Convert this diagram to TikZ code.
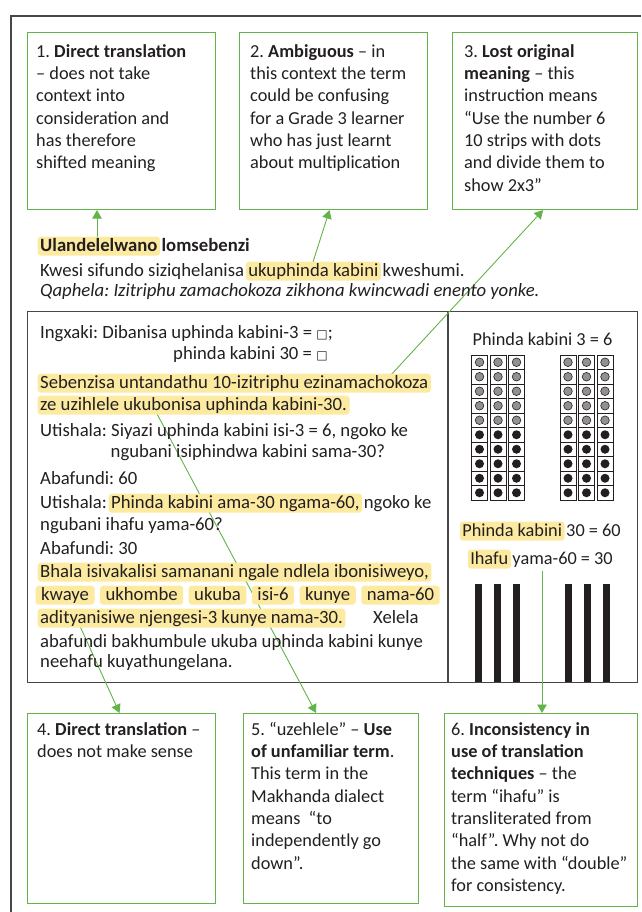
\documentclass[tikz,border=0pt]{standalone}
\usepackage{fontspec}
\setmainfont{Carlito}
\newfontfamily\symfont{DejaVu Sans}
\usetikzlibrary{arrows.meta,calc}

\definecolor{notegreen}{RGB}{98,180,72}
\definecolor{hlyellow}{RGB}{252,234,160}
\definecolor{ink}{RGB}{35,31,32}
\definecolor{framegray}{RGB}{70,70,70}
\definecolor{dotgray}{RGB}{145,145,145}

\newcommand{\bodyfont}{\fontsize{18.3}{22.3}\selectfont}
\newcommand{\lessonfont}{\fontsize{18.7}{22.3}\selectfont}
\newcommand{\topstrut}{\rule{0pt}{14pt}}
\newcommand{\blank}{{\symfont\fontsize{12}{12}\selectfont □}}
\newcommand{\hl}[2][2.5pt]{\hspace{-#1}\tikz[baseline=(hx.base)]\node[hlbox,inner xsep=#1](hx){#2};\hspace{-#1}}

\tikzset{
  notebox/.style={draw=notegreen,line width=1.1pt,anchor=north west,inner sep=0pt},
  notetext/.style={anchor=north west,align=left,inner sep=0pt,text=ink,font=\bodyfont},
  txt/.style={anchor=base west,inner sep=0pt,text=ink,font=\lessonfont},
  hlbox/.style={anchor=base,fill=hlyellow,draw=none,rounded corners=3pt,inner ysep=0pt,text height=14.3pt,text depth=4.6pt},
  pointer/.style={draw=notegreen,line width=0.9pt,-{Triangle[length=8.5pt,width=9.5pt]}},
  frameline/.style={draw=framegray,line width=1.1pt},
  cell/.style={draw=ink,line width=0.6pt},
}

\begin{document}
\frenchspacing
\begin{tikzpicture}[x=1pt,y=-1pt]
\useasboundingbox (0,0) rectangle (641,912);
% outer frame, cut at right and bottom
\draw[frameline] (11,912) |- (641,16);

% comment boxes
\node[notebox,minimum width=188pt,minimum height=177pt] (box1) at (27,32) {};
\node[notebox,minimum width=188pt,minimum height=177pt] (box2) at (239,32) {};
\node[notebox,minimum width=185pt,minimum height=177pt] (box3) at (452,32) {};
\node[notebox,minimum width=188pt,minimum height=190pt] (box4) at (27,713) {};
\node[notebox,minimum width=175pt,minimum height=190pt] (box5) at (243,713) {};
\node[notebox,minimum width=193.5pt,minimum height=193pt] (box6) at (443.5,713) {};

% lesson box
\node[notebox,draw=framegray,minimum width=610pt,minimum height=371pt] (main) at (27,311) {};
\coordinate (split) at (448,311);
\draw[frameline] (split) -- (split |- main.south);

% ten strips
\foreach \gx in {471.5,560}
  \foreach \c in {0,1,2}
    \foreach \r in {0,...,9}
      \draw[cell] ({\gx+\c*18.5},{355+\r*14.5}) rectangle ++(16,14.5);
\foreach \gx in {471.5,560}
  \foreach \c in {0,1,2} {
    \foreach \r in {0,...,4}
      \filldraw[cell,fill=dotgray] ({\gx+\c*18.5+8},{362.25+\r*14.5}) circle (4.3pt);
    \foreach \r in {5,...,9}
      \fill[ink] ({\gx+\c*18.5+8},{362.25+\r*14.5}) circle (4.5pt);
  }
% sticks
\foreach \bx in {475,494,513,565,584,603}
  \fill[ink] (\bx,584) rectangle ++(7,98);

% pointers
\coordinate (a1) at (97,243);
\coordinate (a2) at (313,262);
\coordinate (a3) at (390,376);
\coordinate (a4) at (74,613);
\coordinate (a5) at (156,412);
\coordinate (a6) at (542,571);
\draw[pointer] (a1) -- (a1 |- box1.south);
\draw[pointer] (a2) -- ($(box2.south)+(-4,0)$);
\draw[pointer] (a3) -- ($(box3.south)+(-2,0)$);
\draw[pointer] (a4) -- ($(box4.north)+(-2,0)$);
\draw[pointer] (a5) -- ($(box5.north)+(-15,0)$);
\draw[pointer] (a6) -- (a6 |- box6.north);

% comments
\node[notetext] (n1) at (36,43) {\topstrut 1. \textbf{Direct translation}\\– does not take\\context into\\consideration and\\has therefore\\shifted meaning};
\node[notetext] (n2) at (250,43) {\topstrut 2. \textbf{Ambiguous} – in\\this context the term\\could be confusing\\for a Grade 3 learner\\who has just learnt\\about multiplication};
\node[notetext] (n3) at (464,43) {\topstrut 3. \textbf{Lost original}\\\textbf{meaning} – this\\instruction means\\“Use the number 6\\10 strips with dots\\and divide them to\\show 2x3”};
\node[notetext] (n4) at (37,721) {\topstrut 4. \textbf{Direct translation} –\\does not make sense};
\node[notetext] (n5) at (251,721) {\topstrut 5. “uzehlele” – \textbf{Use}\\\textbf{of unfamiliar term}.\\This term in the\\Makhanda dialect\\means\ \ “to\\independently go\\down”.};
\node[notetext] (n6) at (451,721) {\topstrut 6. \textbf{Inconsistency in}\\\textbf{use of translation}\\\textbf{techniques} – the\\term “ihafu” is\\transliterated from\\“half”. Why not do\\the same with “double”\\for consistency.};

% heading of the lesson
\node[txt] (t1) at (40,251) {\textbf{\hl{Ulandelelwano} lomsebenzi}};
\node[txt] (t2) at (40,276) {Kwesi sifundo siziqhelanisa \hl{ukuphinda kabini} kweshumi.};
\node[txt] (t3) at (40,296) {\textit{Qaphela: Izitriphu zamachokoza zikhona kwincwadi enento yonke.}};

% lesson text
\node[txt] (m1) at (40,338) {Ingxaki: Dibanisa uphinda kabini-3 = \blank;};
\node[txt] (m2) at (173,359) {phinda kabini 30 = \blank};
\node[txt] (m3) at (40,388) {\hl{Sebenzisa untandathu 10-izitriphu ezinamachokoza}};
\node[txt] (m4) at (40,410) {\hl{ze uzihlele ukubonisa uphinda kabini-30.}};
\node[txt] (m5) at (40,436) {Utishala: Siyazi uphinda kabini isi-3 = 6, ngoko ke};
\node[txt] (m6) at (110.5,457) {ngubani isiphindwa kabini sama-30?};
\node[txt] (m7) at (40,484) {Abafundi: 60};
\node[txt] (m8) at (40,508) {Utishala: \hl{Phinda kabini ama-30 ngama-60,} ngoko ke};
\node[txt] (m9) at (40,530) {ngubani ihafu yama-60?};
\node[txt] (m10) at (40,554) {Abafundi: 30};
\node[txt] (m11) at (40,577) {\hl{Bhala isivakalisi samanani ngale ndlela ibonisiweyo,}};
\node[txt] (m12) at (41,600) {\makebox[393pt][s]{\hl[5.5pt]{kwaye}\hfill\hl[5.5pt]{ukhombe}\hfill\hl[5.5pt]{ukuba}\hfill\hl[5.5pt]{isi-6}\hfill\hl[5.5pt]{kunye}\hfill\hl[5.5pt]{nama-60}}};
\node[txt] (m13) at (40,623) {\makebox[333pt][l]{\hl{adityanisiwe njengesi-3 kunye nama-30.}}Xelela};
\node[txt] (m14) at (40,647) {abafundi bakhumbule ukuba uphinda kabini kunye};
\node[txt] (m15) at (40,667) {neehafu kuyathungelana.};

% strip picture labels
\node[txt,font=\bodyfont,anchor=base] (lab1) at (542.5,345) {Phinda kabini 3 = 6};
\node[txt,font=\bodyfont,anchor=base] (lab2) at (541.5,536) {\hl{Phinda kabini} 30 = 60};
\node[txt,font=\bodyfont,anchor=base] (lab3) at (541.5,564) {\hl{Ihafu} yama-60 = 30};
\end{tikzpicture}
\end{document}
